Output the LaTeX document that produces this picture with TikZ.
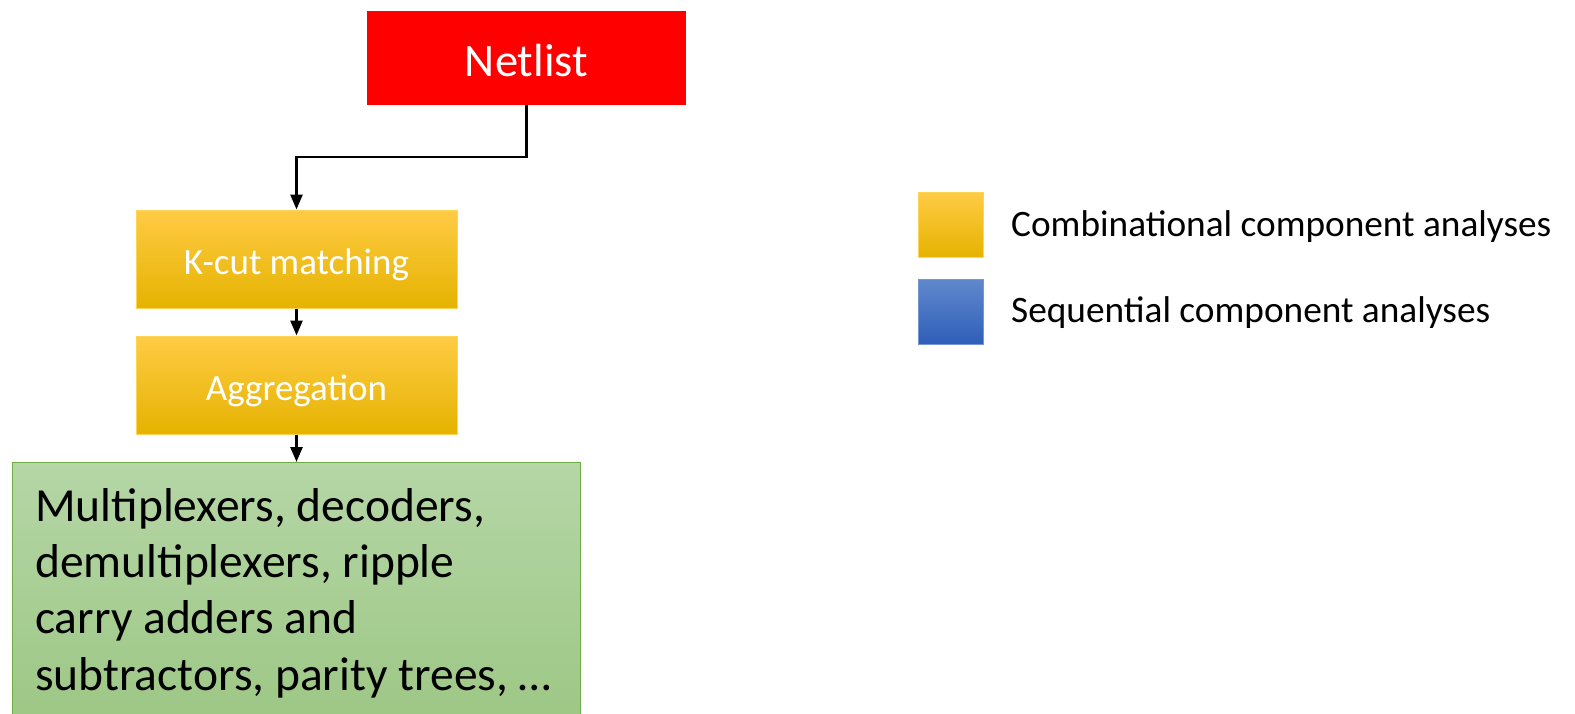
\documentclass[tikz,border=0pt]{standalone}
\usepackage{fontspec}
\setmainfont{Carlito}
\usetikzlibrary{arrows.meta,positioning}
\definecolor{gold1}{HTML}{FFCB45}
\definecolor{gold2}{HTML}{FFC000}
\definecolor{gold3}{HTML}{E5B300}
\definecolor{goldedge}{HTML}{FFD452}
\definecolor{green1}{HTML}{B5D6A6}
\definecolor{green2}{HTML}{9DC785}
\definecolor{greenedge}{HTML}{70AD47}
\definecolor{blue1}{HTML}{6088CC}
\definecolor{blue2}{HTML}{2E5EB8}
\definecolor{blueedge}{HTML}{7396D4}
\tikzset{
  stagebox/.style={rectangle, draw=goldedge, line width=1pt,
    top color=gold1, middle color=gold2, bottom color=gold3,
    minimum width=321pt, minimum height=98pt, inner sep=0pt,
    text height=30pt, text depth=0pt,
    text=white, font=\fontsize{37}{41}\selectfont},
  keybox/.style={rectangle, line width=1pt, minimum width=65pt,
    minimum height=65pt, inner sep=0pt},
  keytext/.style={anchor=west, inner sep=0pt, font=\fontsize{37.3}{41}\selectfont},
  flow/.style={line width=2.5pt, -{Triangle[length=15pt,width=12pt]}}
}
\begin{document}
\begin{tikzpicture}[x=1pt,y=-1pt]
  \useasboundingbox (0,0) rectangle (1575,713);
  \clip (0,0) rectangle (1575,713);
  % input
  \node[rectangle, fill=red, minimum width=319pt, minimum height=94pt,
        inner sep=0pt, text height=36pt, text depth=0pt, text=white,
        font=\fontsize{46.5}{50}\selectfont]
        (net) at (526.5,58) {Netlist};
  % combinational stages
  \node[stagebox] (kcut) at (296.5,259) {K-cut matching};
  \node[stagebox] (agg) at (296.5,385) {Aggregation};
  % result box, running off the lower edge
  \node[rectangle, draw=greenedge, line width=1pt, top color=green1,
        bottom color=green2, minimum width=568pt, minimum height=262pt,
        inner sep=0pt, anchor=north west] (res) at (12,462) {};
  \node[anchor=base west, inner sep=0pt, align=left,
        font=\fontsize{47.5}{56.3}\selectfont] (restext) at (35,690)
        {Multiplexers, decoders,\\demultiplexers, ripple\\carry adders and\\subtractors, parity trees, \dots};
  % connectors
  \draw[flow] (net.south) -- ++(0,52) -| (kcut.north);
  \draw[flow] (kcut.south) -- (agg.north);
  \draw[flow] (agg.south) -- (res.north -| agg.south);
  % key
  \node[keybox, draw=goldedge, top color=gold1, middle color=gold2,
        bottom color=gold3, anchor=north west] (keyc) at (918,192) {};
  \node[keybox, draw=blueedge, top color=blue1, bottom color=blue2,
        anchor=north west] (keys) at (918,279) {};
  \node[keytext] (keyctext) at (1011,227) {Combinational component analyses};
  \node[keytext] (keystext) at (1011,313) {Sequential component analyses};
\end{tikzpicture}
\end{document}
